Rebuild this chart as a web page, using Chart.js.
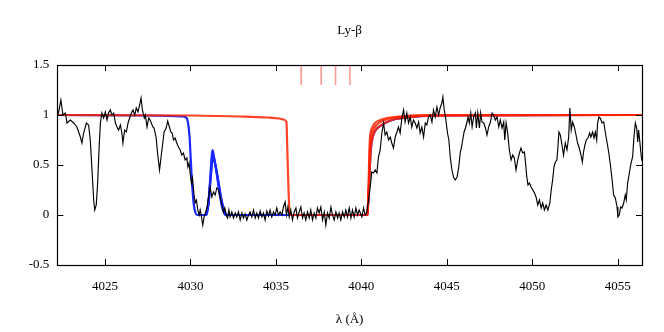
<!DOCTYPE html>
<html>
<head>
<meta charset="utf-8">
<script src="https://cdn.jsdelivr.net/npm/chart.js@4/dist/chart.umd.min.js"></script>
<style>
html,body{margin:0;padding:0;background:#fff;}
#wrap{width:664px;height:332px;position:relative;}
</style>
</head>
<body>
<div id="wrap"><canvas id="c" width="664" height="332"></canvas></div>
<script>
// ---------- data ----------
const chartTitle = 'Ly-β';
const xAxisLabel = 'λ (Å)';
const xRange = [4022.21, 4056.42];
const yRange = [-0.5, 1.5];
const xTicks = [4025, 4030, 4035, 4040, 4045, 4050, 4055];
const yTicks = [-0.5, 0, 0.5, 1, 1.5];

// observed spectrum (black)
const spectrumWave = [
4022.22,4022.29,4022.42,4022.54,4022.68,4022.78,4022.97,4023.17,4023.36,4023.56,4023.65,4023.75,4023.91,4024.04,4024.14,4024.24,4024.34,4024.40,4024.49,4024.57,4024.65,4024.73,4024.82,4024.92,4025.02,4025.12,4025.21,4025.31,4025.41,4025.51,4025.61,4025.70,4025.80,4025.90,4025.99,4026.05,4026.15,4026.25,4026.35,4026.44,4026.54,4026.64,4026.74,4026.83,4026.93,4027.03,4027.11,4027.19,4027.30,4027.36,4027.46,4027.56,
4027.64,4027.80,4027.87,4027.99,4028.07,4028.19,4028.26,4028.38,4028.46,4028.58,4028.67,4028.77,4028.85,4028.93,4029.01,4029.10,4029.20,4029.30,4029.40,4029.49,4029.59,4029.69,4029.79,4029.85,4029.92,4029.98,4030.06,4030.12,4030.20,4030.27,4030.35,4030.43,4030.51,4030.57,4030.65,4030.72,4030.80,4030.88,4030.96,4031.06,4031.15,4031.25,4031.35,4031.45,4031.54,4031.64,4031.74,4031.84,4031.93,4032.01,4032.09,4032.17,4032.25,4032.32,4032.42,4032.52,4032.62,4032.71,4032.81,4032.91,4033.01,4033.10,4033.20,4033.30,4033.40,
4033.49,4033.59,4033.69,4033.79,4033.88,4033.98,4034.08,4034.18,4034.27,4034.37,4034.47,4034.57,4034.66,4034.76,4034.86,4034.96,4035.05,4035.15,4035.25,4035.35,4035.44,4035.54,4035.62,4035.70,4035.78,4035.87,4035.97,4036.07,4036.17,4036.26,4036.36,4036.46,4036.56,4036.65,4036.75,4036.85,4036.95,4037.04,4037.14,4037.24,4037.34,4037.43,4037.53,4037.63,4037.73,4037.83,4037.92,4038.02,4038.12,4038.22,4038.31,4038.41,4038.51,4038.61,4038.70,4038.80,4038.90,4039.00,4039.09,4039.19,4039.29,4039.39,4039.48,4039.58,4039.68,4039.78,4039.87,
4040.03,4040.13,4040.22,4040.32,4040.42,4040.52,4040.61,4040.71,4040.81,4040.91,4041.00,4041.10,4041.20,4041.30,4041.39,4041.49,4041.59,4041.69,4041.78,4041.88,4041.98,4042.08,4042.17,4042.27,4042.37,4042.47,4042.56,4042.66,4042.76,4042.86,4042.95,4043.05,4043.15,4043.25,4043.35,4043.44,4043.54,4043.64,4043.74,4043.83,4043.93,4044.03,4044.13,4044.22,4044.32,4044.42,4044.52,4044.61,4044.71,4044.77,4044.85,4044.93,4045.04,4045.12,4045.20,4045.30,4045.39,4045.49,
4045.60,4045.70,4045.79,4045.85,4045.93,4046.01,4046.09,4046.18,4046.24,4046.32,4046.40,4046.48,4046.57,4046.67,4046.73,4046.81,4046.91,4046.98,4047.06,4047.16,4047.26,4047.35,4047.45,4047.55,4047.65,4047.74,4047.84,4047.94,4048.04,4048.13,4048.23,4048.33,4048.39,4048.47,4048.56,4048.66,4048.76,4048.86,4048.95,4049.05,4049.15,4049.25,4049.34,4049.44,4049.54,4049.60,4049.68,4049.75,4049.83,4049.93,4050.03,4050.13,4050.22,4050.32,4050.42,4050.52,4050.61,4050.71,4050.81,4050.91,
4051.03,4051.11,4051.19,4051.27,4051.35,4051.44,4051.50,4051.56,4051.64,4051.74,4051.83,4051.93,4052.03,4052.13,4052.20,4052.28,4052.36,4052.46,4052.56,4052.65,4052.75,4052.85,4052.93,4053.00,4053.08,4053.16,4053.26,4053.36,4053.43,4053.53,4053.61,4053.69,4053.77,4053.82,4053.90,4053.98,4054.08,4054.18,4054.27,4054.37,4054.47,4054.57,4054.66,4054.76,4054.86,4054.96,4055.01,4055.09,4055.17,4055.25,4055.35,4055.44,4055.50,4055.58,4055.68,4055.78,4055.87,4055.95,4056.03,4056.11,4056.17,4056.22,4056.30,4056.38,4056.44
];
const spectrumFlux = [
1.00,1.03,1.15,1.00,1.02,0.92,0.95,0.92,0.88,0.78,0.72,0.82,0.92,0.90,0.75,0.45,0.15,0.05,0.10,0.32,0.65,0.92,1.02,0.97,1.03,0.95,1.02,1.05,1.00,1.02,0.92,0.88,0.85,0.90,0.82,0.72,0.85,0.83,0.92,0.97,1.02,1.05,1.00,1.07,1.03,1.10,1.17,1.05,0.97,1.00,0.88,0.97,
0.95,0.88,0.87,0.78,0.63,0.45,0.55,0.72,0.83,0.87,0.94,0.88,0.83,0.82,0.75,0.77,0.72,0.68,0.65,0.60,0.62,0.55,0.57,0.48,0.52,0.42,0.32,0.37,0.22,0.12,0.15,0.05,0.00,0.05,-0.02,-0.10,-0.02,0.02,0.07,0.18,0.28,0.18,0.23,0.20,0.27,0.25,0.18,0.10,0.03,0.07,0.00,-0.03,0.05,-0.02,0.03,-0.03,0.02,-0.02,0.03,-0.05,0.02,-0.03,0.01,-0.05,0.00,
0.03,-0.02,0.05,-0.03,0.02,-0.03,0.04,-0.02,0.02,-0.05,0.04,-0.01,0.05,-0.02,0.03,0.00,0.07,0.00,0.03,0.00,0.08,0.13,0.00,0.08,-0.02,0.05,-0.05,0.03,0.07,-0.03,0.03,0.08,-0.03,0.02,-0.05,0.03,-0.03,0.05,-0.05,0.02,-0.03,0.07,0.02,0.08,-0.05,0.03,-0.10,0.02,-0.03,0.08,0.00,-0.05,0.03,-0.03,0.02,-0.05,0.03,-0.02,0.05,-0.02,0.07,-0.03,0.05,-0.02,0.07,0.00,0.05,
-0.02,0.07,0.00,0.03,0.15,0.28,0.43,0.42,0.45,0.42,0.58,0.65,0.82,0.92,0.80,0.83,0.75,0.78,0.72,0.67,0.78,0.83,0.88,0.82,0.97,1.05,0.93,1.02,0.92,0.98,0.88,0.95,0.92,0.87,0.93,0.82,0.88,0.78,0.92,0.90,0.98,1.00,0.93,1.05,0.98,1.08,1.00,1.07,1.12,1.18,1.05,0.97,0.82,0.75,0.58,0.45,0.38,0.35,
0.38,0.48,0.63,0.67,0.75,0.83,0.87,0.93,0.98,0.92,1.02,0.88,0.98,1.02,0.87,1.02,0.87,1.02,0.93,0.92,0.87,0.80,0.88,0.93,1.02,1.00,0.95,0.98,0.88,0.95,0.87,0.93,0.75,0.92,0.82,0.65,0.55,0.60,0.57,0.45,0.55,0.62,0.67,0.62,0.63,0.53,0.38,0.30,0.32,0.28,0.25,0.22,0.18,0.10,0.15,0.07,0.12,0.05,0.10,0.05,
0.12,0.25,0.35,0.48,0.53,0.55,0.68,0.83,0.80,0.70,0.60,0.72,0.65,0.78,1.07,0.85,0.93,0.88,0.80,0.72,0.67,0.60,0.53,0.63,0.70,0.75,0.77,0.82,0.78,0.83,0.77,0.83,0.75,0.92,0.98,0.97,0.92,0.93,0.83,0.73,0.63,0.50,0.37,0.20,0.17,0.08,-0.02,0.00,0.08,0.07,0.12,0.20,0.15,0.32,0.42,0.52,0.58,0.78,0.92,0.87,0.73,0.85,0.72,0.58,0.53
];

// model A (blue), three realisations
const blueWave1 = [4022.21,4027.0,4029.5,4029.75,4029.85,4029.95,4030.02,4030.10,4030.20,4030.30,4030.40,4030.95,4031.05,4031.15,4031.25,4031.30,4031.40,4031.55,4031.70,4031.85,4032.00,4032.10,4040.36,4040.45,4040.55,4040.65,4040.80,4041.10,4041.50,4042.00,4043.00,4044.50,4056.42];
const blueFlux1 = [1.00,0.995,0.985,0.975,0.93,0.78,0.55,0.30,0.10,0.02,0.00,0.00,0.12,0.35,0.60,0.65,0.55,0.40,0.22,0.08,0.01,0.00,0.00,0.30,0.65,0.77,0.84,0.89,0.93,0.96,0.98,0.995,1.00];
const blueWave2 = [4030.90,4031.05,4031.20,4031.32,4031.50,4031.65,4031.80,4031.95,4032.10];
const blueFlux2 = [0.00,0.10,0.40,0.58,0.47,0.32,0.17,0.06,0.00];
const blueWave3 = [4030.92,4031.05,4031.18,4031.30,4031.45,4031.60,4031.75,4031.90,4032.05];
const blueFlux3 = [0.00,0.11,0.38,0.62,0.51,0.36,0.20,0.07,0.00];

// model B (red), three realisations
const redWave1 = [4022.21,4030.0,4033.0,4034.5,4035.2,4035.45,4035.62,4035.66,4035.72,4035.78,4035.85,4040.36,4040.42,4040.48,4040.55,4040.65,4040.80,4041.10,4041.50,4042.50,4044.00,4056.42];
const redFlux1 = [1.00,0.995,0.985,0.975,0.965,0.955,0.93,0.70,0.35,0.08,0.00,0.00,0.30,0.70,0.83,0.88,0.92,0.95,0.97,0.99,0.998,1.00];
const redWave2 = [4040.36,4040.45,4040.55,4040.65,4040.80,4041.10,4041.50,4042.00,4043.00,4044.50,4056.42];
const redFlux2 = [0.00,0.30,0.65,0.77,0.84,0.89,0.93,0.96,0.98,0.995,1.00];
const redWave3 = [4040.36,4040.44,4040.51,4040.60,4040.72,4040.95,4041.30,4041.80,4042.80,4044.20,4056.42];
const redFlux3 = [0.00,0.30,0.68,0.80,0.86,0.91,0.945,0.97,0.985,0.997,1.00];

// line-position markers at top
const markerWave = [4036.48, 4037.65, 4038.49, 4039.33];

// ---------- build ----------
const pts = (w, f) => w.map((x, i) => ({x: x, y: f[i]}));
const markerPts = [];
markerWave.forEach(w => { markerPts.push({x: w, y: 1.5}, {x: w, y: 1.3}, {x: w, y: null}); });

const SERIF = '"Liberation Serif", "Times New Roman", serif';
const RED = 'rgba(255,34,0,0.85)';
const BLUE = '#1a28ff';

const framePlugin = {
  id: 'frame',
  afterDatasetsDraw(chart) {
    const {ctx, chartArea: a, scales} = chart;
    ctx.save();
    ctx.strokeStyle = '#000';
    ctx.lineWidth = 1;
    const tl = 6;
    ctx.beginPath();
    xTicks.forEach(v => {
      const px = Math.round(scales.x.getPixelForValue(v)) + 0.5;
      ctx.moveTo(px, a.bottom); ctx.lineTo(px, a.bottom - tl);
      ctx.moveTo(px, a.top); ctx.lineTo(px, a.top + tl);
    });
    yTicks.forEach(v => {
      const py = Math.round(scales.y.getPixelForValue(v)) + 0.5;
      ctx.moveTo(a.left, py); ctx.lineTo(a.left + tl, py);
      ctx.moveTo(a.right, py); ctx.lineTo(a.right - tl, py);
    });
    ctx.stroke();
    ctx.lineWidth = 1.2;
    ctx.strokeRect(Math.round(a.left) + 0.5, Math.round(a.top) + 0.5, Math.round(a.right - a.left), Math.round(a.bottom - a.top));
    ctx.restore();
  },
  afterDraw(chart) {
    const {ctx, chartArea: a} = chart;
    ctx.save();
    ctx.fillStyle = '#000';
    ctx.font = '13px ' + SERIF;
    ctx.textAlign = 'center';
    ctx.textBaseline = 'middle';
    const cx = (a.left + a.right) / 2;
    ctx.fillText(chartTitle, cx, 31);
    ctx.fillText(xAxisLabel, cx, 320);
    ctx.restore();
  }
};

const lineDs = (label, w, f, color, width, order) => ({
  label: label, data: pts(w, f), borderColor: color, borderWidth: width,
  pointRadius: 0, cubicInterpolationMode: 'monotone', order: order
});

new Chart(document.getElementById('c'), {
  type: 'line',
  data: {
    datasets: [
      {label: 'spectrum', data: pts(spectrumWave, spectrumFlux), borderColor: '#000', borderWidth: 1.15, pointRadius: 0, tension: 0, order: 0},
      lineDs('red1', redWave1, redFlux1, RED, 2.2, 1),
      lineDs('red2', redWave2, redFlux2, RED, 2.2, 1),
      lineDs('red3', redWave3, redFlux3, RED, 2.2, 1),
      lineDs('blue1', blueWave1, blueFlux1, BLUE, 2.2, 2),
      lineDs('blue2', blueWave2, blueFlux2, BLUE, 2.2, 2),
      lineDs('blue3', blueWave3, blueFlux3, BLUE, 2.2, 2),
      {label: 'markers', data: markerPts, borderColor: 'rgba(245,120,110,0.75)', borderWidth: 1.6, pointRadius: 0, spanGaps: false, order: 3}
    ]
  },
  options: {
    responsive: false,
    animation: false,
    layout: {padding: {top: 65, right: 22, bottom: 0, left: 0}},
    plugins: {legend: {display: false}, tooltip: {enabled: false}, title: {display: false}},
    scales: {
      x: {
        type: 'linear', min: xRange[0], max: xRange[1],
        grid: {display: false, drawTicks: false}, border: {display: false},
        afterBuildTicks: s => { s.ticks = xTicks.map(v => ({value: v})); },
        afterFit: s => { s.height = 67; },
        ticks: {color: '#000', font: {family: SERIF, size: 13}, padding: 14, maxRotation: 0, callback: v => String(v)}
      },
      y: {
        type: 'linear', min: yRange[0], max: yRange[1],
        grid: {display: false, drawTicks: false}, border: {display: false},
        afterBuildTicks: s => { s.ticks = yTicks.map(v => ({value: v})); },
        afterFit: s => { s.width = 57.3; },
        ticks: {color: '#000', font: {family: SERIF, size: 13}, padding: 8, callback: v => String(v)}
      }
    }
  },
  plugins: [framePlugin]
});
</script>
</body>
</html>
